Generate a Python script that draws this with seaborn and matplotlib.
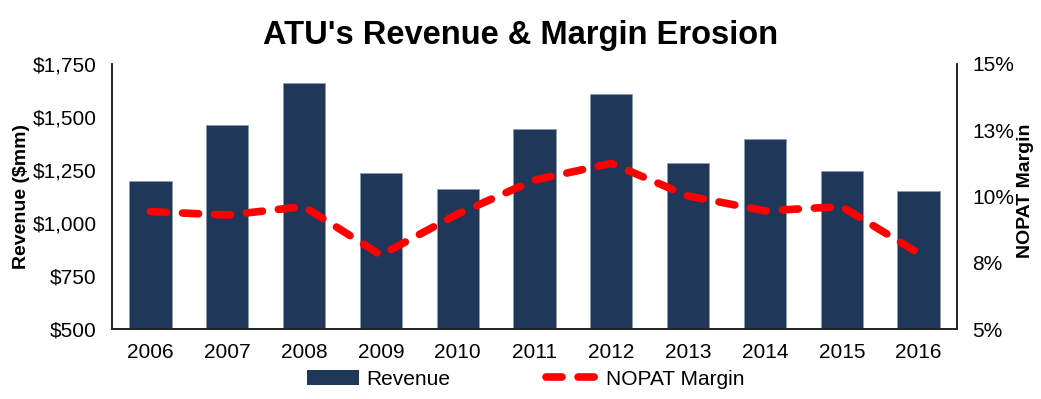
import numpy as np
import pandas as pd
import seaborn as sns
import matplotlib.pyplot as plt
from matplotlib.lines import Line2D
from matplotlib.patches import Patch

years = ['2006', '2007', '2008', '2009', '2010', '2011', '2012', '2013', '2014', '2015', '2016']
revenue = [1197, 1462, 1662, 1234, 1159, 1443, 1607, 1282, 1396, 1244, 1150]
nopat_margin = [9.43, 9.30, 9.62, 7.79, 9.34, 10.62, 11.25, 10.02, 9.46, 9.62, 7.86]

rev_ticks = [500, 750, 1000, 1250, 1500, 1750]
rev_labels = ['$500', '$750', '$1,000', '$1,250', '$1,500', '$1,750']
pct_ticks = [5, 7.5, 10, 12.5, 15]
pct_labels = ['5%', '8%', '10%', '13%', '15%']

df = pd.DataFrame({'year': years, 'revenue': revenue, 'margin': nopat_margin})
df['pos'] = np.arange(len(years))

sns.set_style('white')
plt.rcParams['font.family'] = ['Liberation Sans', 'DejaVu Sans']
plt.rcParams['text.color'] = 'black'
plt.rcParams['xtick.color'] = 'black'
plt.rcParams['ytick.color'] = 'black'
plt.rcParams['axes.labelcolor'] = 'black'

bar_color = '#1f3759'
line_color = '#ff0000'
dash = [2.1, 2.1]

fig = plt.figure(figsize=(10.41, 3.99), dpi=100)
ax = fig.add_axes([0.1076, 0.1754, 0.8117, 0.6642])

sns.barplot(data=df, x='year', y='revenue', color=bar_color, width=0.55,
            edgecolor='#8a9ab0', linewidth=0.6, saturation=1, ax=ax)
ax.set_ylim(500, 1750)
ax.set_xlim(-0.5, len(years) - 0.5)
ax.set_yticks(rev_ticks)
ax.set_yticklabels(rev_labels, fontsize=15)
ax.tick_params(axis='x', labelsize=15, pad=10)
ax.tick_params(axis='y', pad=11)
ax.set_xlabel('')
ax.set_ylabel('Revenue ($mm)', fontsize=14, fontweight='bold', labelpad=2)

ax2 = ax.twinx()
sns.lineplot(data=df, x='pos', y='margin', color=line_color, linewidth=5.5,
             ax=ax2, legend=False)
ax2.lines[0].set_dashes(dash)
ax2.lines[0].set_dash_capstyle('round')
ax2.set_ylim(5, 15)
ax2.set_yticks(pct_ticks)
ax2.set_yticklabels(pct_labels, fontsize=15)
ax2.tick_params(axis='y', pad=11)
ax2.set_ylabel('NOPAT Margin', fontsize=14, fontweight='bold')
ax2.yaxis.set_label_coords(1.0715, 0.52)
ax2.set_xlim(-0.5, len(years) - 0.5)
ax2.set_xlabel('')

for a in (ax, ax2):
    a.spines['top'].set_visible(False)
    for s in ('left', 'right', 'bottom'):
        a.spines[s].set_color('#222222')
        a.spines[s].set_linewidth(1.2)
    a.tick_params(length=0)

handles = [Patch(facecolor=bar_color, edgecolor='none', label='Revenue'),
           Line2D([0], [0], color=line_color, linewidth=5.5, dashes=dash,
                  dash_capstyle='round', label='NOPAT Margin')]
fig.legend(handles=handles, loc='center', bbox_to_anchor=(0.505, 0.05), ncol=2,
           frameon=False, fontsize=15, columnspacing=4.6, handlelength=2.5,
           handletextpad=0.35)

fig.text(0.5, 0.912, "ATU's Revenue & Margin Erosion", fontsize=23.5,
         fontweight='bold', ha='center', va='center')

fig.savefig('out.png', dpi=100)
